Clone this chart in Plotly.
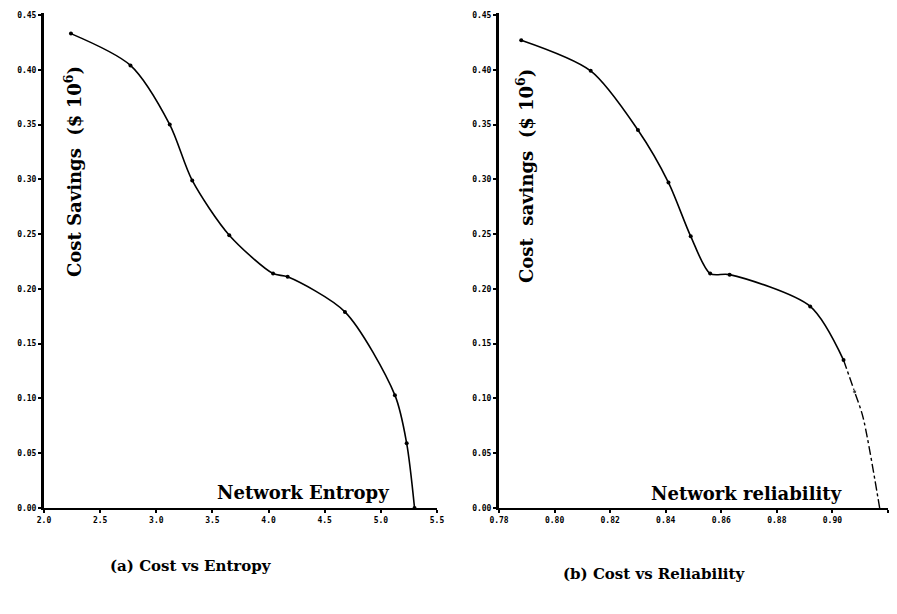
import plotly.graph_objects as go

# Panel (a): Cost savings vs network entropy
entropy = [2.24, 2.77, 3.12, 3.32, 3.65, 4.04, 4.17, 4.68, 5.125, 5.23, 5.30]
cost_a = [0.433, 0.404, 0.350, 0.299, 0.249, 0.214, 0.211, 0.179, 0.103, 0.059, 0.0]

# Panel (b): Cost savings vs network reliability
reliab_solid = [0.788, 0.813, 0.830, 0.841, 0.849, 0.856, 0.863, 0.892, 0.904]
cost_b_solid = [0.427, 0.399, 0.345, 0.297, 0.248, 0.214, 0.213, 0.184, 0.135]
reliab_tail = [0.904, 0.908, 0.911, 0.917]
cost_b_tail = [0.135, 0.106, 0.083, 0.0]

y_ticks = [0.00, 0.05, 0.10, 0.15, 0.20, 0.25, 0.30, 0.35, 0.40, 0.45]
xa_ticks = [2.0, 2.5, 3.0, 3.5, 4.0, 4.5, 5.0, 5.5]
xb_ticks = [0.78, 0.80, 0.82, 0.84, 0.86, 0.88, 0.90, 0.92]

W, H = 897, 614
fig = go.Figure()

line = dict(color="black", width=1.6)
fig.add_trace(go.Scatter(x=entropy, y=cost_a, mode="lines+markers",
                         line=dict(**line, shape="spline", smoothing=0.8),
                         marker=dict(size=4, color="black"),
                         xaxis="x", yaxis="y", showlegend=False))
fig.add_trace(go.Scatter(x=reliab_solid, y=cost_b_solid, mode="lines+markers",
                         line=dict(**line, shape="spline", smoothing=0.8),
                         marker=dict(size=4, color="black"),
                         xaxis="x2", yaxis="y2", showlegend=False))
fig.add_trace(go.Scatter(x=reliab_tail, y=cost_b_tail, mode="lines+markers",
                         line=dict(color="black", width=1.4, shape="spline",
                                   smoothing=0.8, dash="dashdot"),
                         marker=dict(size=[0, 4, 0, 0], color="black"),
                         xaxis="x2", yaxis="y2", showlegend=False))

tickfont = dict(family="DejaVu Sans Mono", size=8, color="black", weight="bold")
ydom = [1 - 508 / H, 1 - 12.8 / H]

def xaxis(dom, rng, ticks, fmt):
    return dict(domain=dom, range=rng, tickvals=ticks,
                ticktext=[fmt.format(t) for t in ticks],
                showgrid=False, zeroline=False, showline=True,
                linecolor="black", linewidth=2, ticks="outside",
                ticklen=3, tickwidth=1.5, tickcolor="black",
                tickfont=tickfont, automargin=False, fixedrange=True)

def yaxis(anchor):
    return dict(domain=ydom, range=[0, 0.452], tickvals=y_ticks,
                ticktext=["{:.2f}".format(t) for t in y_ticks],
                showgrid=False, zeroline=False, showline=True,
                linecolor="black", linewidth=3, ticks="outside",
                ticklen=3, tickwidth=1.5, tickcolor="black",
                tickfont=tickfont, automargin=False, anchor=anchor,
                fixedrange=True)

fig.update_layout(
    width=W, height=H,
    margin=dict(l=0, r=0, t=0, b=0),
    paper_bgcolor="white", plot_bgcolor="white",
    xaxis=xaxis([44 / W, 437 / W], [2.0, 5.5], xa_ticks, "{:.1f}") | dict(anchor="y"),
    yaxis=yaxis("x"),
    xaxis2=xaxis([499 / W, 888 / W], [0.78, 0.92], xb_ticks, "{:.2f}") | dict(anchor="y2"),
    yaxis2=yaxis("x2"),
)

serif = "DejaVu Serif"
ann = []
def add(text, x, y, size, angle=0):
    ann.append(dict(text=text, x=x / W, y=1 - y / H, xref="paper", yref="paper",
                    showarrow=False, textangle=angle,
                    font=dict(family=serif, size=size, color="black", weight="bold"),
                    xanchor="center", yanchor="middle"))

add("Cost Savings  ($ 10<sup>6</sup>)", 73, 172, 18, -90)
add("Network Entropy", 303, 492, 18)
add("Cost  savings  ($ 10<sup>6</sup>)", 525, 176, 18, -90)
add("Network reliability", 746, 493, 18)
add("(a) Cost vs Entropy", 191, 566, 15)
add("(b) Cost vs Reliability", 654, 574, 15)
fig.update_layout(annotations=ann)

fig.write_html("out.html", post_script="document.body.style.margin='0';",
               config={"displayModeBar": False})
